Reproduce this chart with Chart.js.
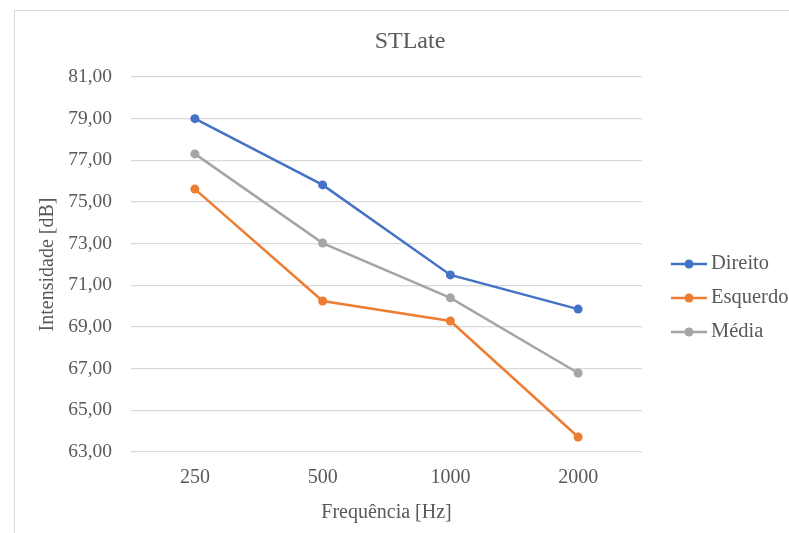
<!DOCTYPE html>
<html>
<head>
<meta charset="utf-8">
<script src="https://cdn.jsdelivr.net/npm/chart.js@4.4.0/dist/chart.umd.min.js"></script>
<style>
  html, body { margin: 0; padding: 0; background: #ffffff; }
  #wrap { position: relative; width: 789px; height: 533px; overflow: hidden; }
  #frame { position: absolute; left: 14px; top: 10px; width: 800px; height: 600px;
           border-left: 1px solid #d9d9d9; border-top: 1px solid #d9d9d9; box-sizing: border-box; }
  canvas { position: absolute; left: 0; top: 0; }
</style>
</head>
<body>
<div id="wrap">
  <div id="frame"></div>
  <canvas id="c" width="789" height="533"></canvas>
</div>
<script>
const chartTitle = 'STLate';
const categories = ['250', '500', '1000', '2000'];
const seriesNames = ['Direito', 'Esquerdo', 'Média'];
const direito = [79.00, 75.82, 71.50, 69.86];
const esquerdo = [75.62, 70.25, 69.29, 63.72];
const media = [77.31, 73.03, 70.40, 66.79];
const yMin = 63, yMax = 81, yStep = 2;
const xAxisTitle = 'Frequência [Hz]';
const yAxisTitle = 'Intensidade [dB]';

const colors = ['#4472C4', '#ED7D31', '#A5A5A5'];
const textColor = '#595959';
const fontFamily = '"Liberation Serif", "Times New Roman", serif';

const titlePlugin = {
  id: 'customTitle',
  afterDraw(chart) {
    const ctx = chart.ctx;
    ctx.save();
    ctx.font = '24px ' + fontFamily;
    ctx.fillStyle = textColor;
    ctx.textAlign = 'center';
    ctx.textBaseline = 'middle';
    ctx.fillText(chartTitle, 410, 42);
    ctx.restore();
  }
};

const legendPlugin = {
  id: 'customLegend',
  afterDraw(chart) {
    const ctx = chart.ctx;
    ctx.save();
    chart.data.datasets.forEach((ds, i) => {
      const y = 264 + 34 * i;
      ctx.strokeStyle = ds.borderColor;
      ctx.lineWidth = 2.5;
      ctx.beginPath();
      ctx.moveTo(671, y);
      ctx.lineTo(707, y);
      ctx.stroke();
      ctx.fillStyle = ds.borderColor;
      ctx.beginPath();
      ctx.arc(689, y, 4.5, 0, Math.PI * 2);
      ctx.fill();
      ctx.font = '20.5px ' + fontFamily;
      ctx.fillStyle = textColor;
      ctx.textAlign = 'left';
      ctx.textBaseline = 'middle';
      ctx.fillText(ds.label, 711, y);
    });
    ctx.restore();
  }
};

const seriesData = [direito, esquerdo, media];

new Chart(document.getElementById('c'), {
  type: 'line',
  data: {
    labels: categories,
    datasets: seriesNames.map((name, i) => ({
      label: name,
      data: seriesData[i],
      borderColor: colors[i],
      backgroundColor: colors[i],
      borderWidth: 2.5,
      pointRadius: 4.5,
      pointHoverRadius: 4.5,
      pointBorderWidth: 0,
      tension: 0,
      fill: false
    }))
  },
  options: {
    responsive: false,
    animation: false,
    events: [],
    layout: { padding: { left: 15, top: 77, right: 147, bottom: 0 } },
    plugins: {
      legend: { display: false },
      title: { display: false },
      tooltip: { enabled: false }
    },
    scales: {
      x: {
        offset: true,
        grid: { display: false, drawTicks: false },
        border: { display: false },
        ticks: { color: textColor, font: { family: fontFamily, size: 20 }, padding: 14, maxRotation: 0 },
        title: { display: true, text: xAxisTitle, color: textColor,
                 font: { family: fontFamily, size: 20 }, padding: { top: 0, bottom: 8 } },
        afterFit(scale) { scale.height = 81; }
      },
      y: {
        min: yMin, max: yMax,
        grid: { color: '#d9d9d9', lineWidth: 1.3, drawTicks: false },
        border: { display: false },
        ticks: {
          stepSize: yStep, color: textColor, padding: 19,
          font: { family: fontFamily, size: 19.5 },
          callback: (v) => v.toFixed(2).replace('.', ',')
        },
        title: { display: true, text: yAxisTitle, color: textColor,
                 font: { family: fontFamily, size: 20 }, padding: { top: 21, bottom: 0 } },
        afterFit(scale) { scale.width = 116; }
      }
    }
  },
  plugins: [titlePlugin, legendPlugin]
});
</script>
</body>
</html>
